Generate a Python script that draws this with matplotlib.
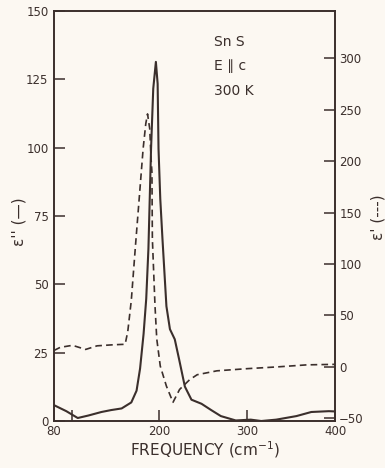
import matplotlib
matplotlib.use('Agg')
import matplotlib.pyplot as plt

# eps'' (solid, left axis)
freq_im = [80, 94, 107, 119, 134, 145, 157, 168, 174, 178, 182, 185, 187.5, 190.5, 193, 196,
           198, 199, 201, 203.5, 208, 212, 217.5, 222.5, 229, 236.5, 248, 259, 270, 287, 304,
           316, 333, 356, 373, 393, 400]
eps_im = [5.8, 3.6, 1.1, 2.0, 3.3, 4.0, 4.6, 6.8, 11.1, 19.2, 31.9, 44.7, 63, 99.6, 121.6, 131.4,
          123.4, 99.6, 81.3, 66.6, 42, 33.6, 29.9, 22.5, 12.6, 7.8, 6.3, 4.0, 1.8, 0.2, 0.5,
          0.0, 0.5, 1.8, 3.3, 3.6, 3.5]

# eps' (dashed, right axis)
freq_re = [80, 87, 101, 116, 129, 147, 161, 164, 168, 172.5, 177, 181.5, 184.5, 186.5, 189, 190.5,
           191.5, 192, 195, 197, 201, 208, 215.5, 223, 234.5, 243, 265.5, 300, 334, 368, 400]
eps_re = [16, 19, 21, 17, 20.5, 21.5, 22, 34.5, 64.6, 115, 163.7, 212.4, 236.5, 246, 231.5, 202.4,
          189.6, 124.5, 59.3, 27.2, 0.8, -18.7, -34.4, -21.9, -12.4, -7.6, -3.8, -1.7, 0.0, 2.0, 2.5]

left_ticks = [0, 25, 50, 75, 100, 125, 150]
right_ticks = [-50, 0, 50, 100, 150, 200, 250, 300]
x_ticks = [80, 100, 200, 300, 400]
x_labels = ['80', '', '200', '300', '400']

ink = '#3b2f2c'
bg = '#fcf8f2'

plt.rcParams['font.family'] = 'DejaVu Sans'
fig = plt.figure(figsize=(3.85, 4.68), dpi=100, facecolor=bg)
ax = fig.add_axes([0.1403, 0.1004, 0.7299, 0.876])
ax.set_facecolor(bg)
ax2 = ax.twinx()

ax.plot(freq_im, eps_im, color=ink, lw=1.5, solid_joinstyle='round')
ax2.plot(freq_re, eps_re, color=ink, lw=1.2, linestyle=(0, (4, 2.5)))

ax.set_xlim(80, 400)
ax.set_ylim(0, 150)
ax2.set_ylim(-52.6, 346)

ax.set_xticks(x_ticks)
ax.set_xticklabels(x_labels)
ax.set_yticks(left_ticks)
ax2.set_yticks(right_ticks)

for a in (ax, ax2):
    for s in a.spines.values():
        s.set_color(ink)
        s.set_linewidth(1.2)
ax.tick_params(axis='both', direction='in', length=8, width=1.1, colors=ink, labelsize=8.5, pad=3)
ax.tick_params(axis='y', pad=4)
ax2.tick_params(axis='y', direction='in', length=8, width=1.1, colors=ink, labelsize=8.5, pad=3)

ax.set_xlabel('FREQUENCY (cm$^{-1}$)', fontsize=11, color=ink)
ax.xaxis.set_label_coords(0.537, -0.045)
fig.text(0.05, 0.527, "ε'' (—)", rotation=90, fontsize=11, color=ink, ha='center', va='center')
fig.text(0.982, 0.535, "ε' (---)", rotation=90, fontsize=11, color=ink, ha='center', va='center')

ax.text(0.57, 0.915, 'Sn S', transform=ax.transAxes, fontsize=10, color=ink)
ax.text(0.57, 0.855, 'E ∥ c', transform=ax.transAxes, fontsize=10, color=ink)
ax.text(0.57, 0.795, '300 K', transform=ax.transAxes, fontsize=10, color=ink)

fig.savefig('out.png', dpi=100, facecolor=bg)
